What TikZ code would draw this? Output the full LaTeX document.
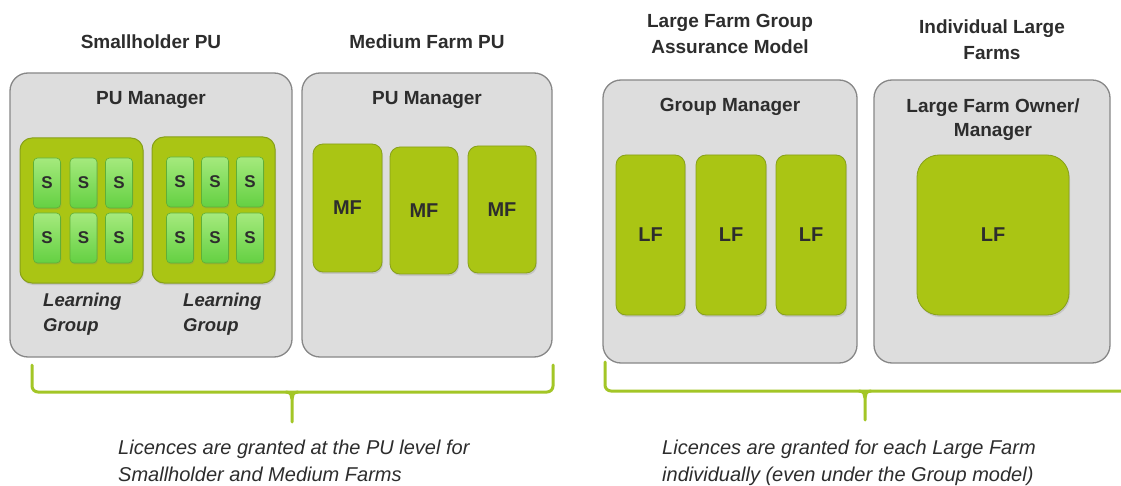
\documentclass[tikz,border=0pt]{standalone}
\usepackage{fontspec}
\setmainfont{Liberation Sans}
\usetikzlibrary{shadows}
\definecolor{panelfill}{RGB}{221,221,221}
\definecolor{panelborder}{RGB}{135,135,135}
\definecolor{farmgreen}{RGB}{170,197,20}
\definecolor{farmborder}{RGB}{135,160,25}
\definecolor{stilet}{RGB}{165,234,125}
\definecolor{stileb}{RGB}{100,208,66}
\definecolor{stileborder}{RGB}{95,175,55}
\definecolor{txt}{RGB}{45,45,45}
\definecolor{bracegreen}{RGB}{163,198,38}
\newcommand{\myfs}[2]{\fontsize{#1}{#2}\selectfont}
\tikzset{
  panel/.style={draw=panelborder, fill=panelfill, rounded corners=18pt, line width=1.3pt, inner sep=0pt, outer sep=0pt},
  groupbox/.style={draw=farmborder, fill=farmgreen, rounded corners=12pt, line width=1pt, inner sep=0pt,
    drop shadow={shadow xshift=1pt, shadow yshift=-2pt, opacity=0.25}},
  farm/.style={draw=farmborder, fill=farmgreen, rounded corners=10pt, line width=0.8pt, inner sep=0pt,
    text=txt, font=\bfseries\myfs{20}{24},
    drop shadow={shadow xshift=1pt, shadow yshift=-2pt, opacity=0.25}},
  stile/.style={draw=stileborder, top color=stilet, bottom color=stileb, rounded corners=4pt, line width=0.6pt,
    inner sep=0pt, minimum width=27pt, minimum height=50pt, text=txt, font=\bfseries\myfs{17}{20},
    drop shadow={shadow xshift=0.8pt, shadow yshift=-1.5pt, opacity=0.25}},
  header/.style={text=txt, font=\bfseries\myfs{19}{26}, align=center, inner sep=0pt},
  mgr/.style={text=txt, font=\bfseries\myfs{19}{24}, align=center, inner sep=0pt},
  lglabel/.style={text=txt, font=\bfseries\itshape\myfs{18.5}{25}, align=left, inner sep=0pt, anchor=north west},
  note/.style={text=txt, font=\itshape\myfs{20}{27}, align=left, inner sep=0pt, anchor=north west},
  bracepath/.style={draw=bracegreen, line width=3pt, line cap=round, line join=round}
}
\begin{document}
\begin{tikzpicture}[x=1pt,y=-1pt]
\fill[white] (0,0) rectangle (1121,486);
\useasboundingbox (0,0) rectangle (1121,486);

% headers
\node[header] (hsh) at (151,42) {Smallholder PU};
\node[header] (hmf) at (427,42) {Medium Farm PU};
\node[header] (hga) at (730,34) {Large Farm Group\\Assurance Model};
\node[header] (hil) at (992,40) {Individual Large\\Farms};

% panels
\node[panel, minimum width=282pt, minimum height=284pt] (psh) at (151,215) {};
\node[panel, minimum width=250pt, minimum height=284pt] (pmf) at (427,215) {};
\node[panel, minimum width=254pt, minimum height=283pt] (pga) at (730,221.5) {};
\node[panel, minimum width=236pt, minimum height=283pt] (pil) at (992,221.5) {};

% manager labels
\node[mgr] (msh) at (151,100) {PU Manager};
\node[mgr] (mmf) at (427,100) {PU Manager};
\node[mgr] (mga) at (730,107) {Group Manager};
\node[mgr] (mil) at (993,120) {Large Farm Owner/\\Manager};

% learning groups
\node[groupbox, minimum width=123pt, minimum height=145pt] (lg1) at (81.5,210.5) {};
\node[groupbox, minimum width=123pt, minimum height=146pt] (lg2) at (213.5,210) {};

% S tiles group 1
\node[stile] (s11) at (47,183) {S};
\node[stile] (s12) at (83.5,183) {S};
\node[stile] (s13) at (119,183) {S};
\node[stile] (s14) at (47,238) {S};
\node[stile] (s15) at (83.5,238) {S};
\node[stile] (s16) at (119,238) {S};
% S tiles group 2
\node[stile] (s21) at (180,182) {S};
\node[stile] (s22) at (215,182) {S};
\node[stile] (s23) at (250,182) {S};
\node[stile] (s24) at (180,238) {S};
\node[stile] (s25) at (215,238) {S};
\node[stile] (s26) at (250,238) {S};

% learning group labels
\node[lglabel] (lgl1) at (43,293) {Learning\\Group};
\node[lglabel] (lgl2) at (183,293) {Learning\\Group};

% medium farms
\node[farm, minimum width=69pt, minimum height=128pt] (mf1) at (347.5,208) {MF};
\node[farm, minimum width=68pt, minimum height=127pt] (mf2) at (424,210.5) {MF};
\node[farm, minimum width=68pt, minimum height=127pt] (mf3) at (502,209.5) {MF};

% large farms (group)
\node[farm, minimum width=69pt, minimum height=160pt] (lf1) at (650.5,235) {LF};
\node[farm, minimum width=70pt, minimum height=160pt] (lf2) at (731,235) {LF};
\node[farm, minimum width=70pt, minimum height=160pt] (lf3) at (811,235) {LF};

% individual large farm
\node[farm, rounded corners=22pt, minimum width=152pt, minimum height=160pt] (lf4) at (993,235) {LF};

% braces
\coordinate (bla) at (32,365);
\coordinate (blb) at (32,392);
\coordinate (blc) at (553,392);
\coordinate (bld) at (553,365);
\coordinate (blm) at (292,392);
\coordinate (blt) at (292,422);
\draw[bracepath, rounded corners=6pt] (bla) -- (blb) -- (blc) -- (bld);
\draw[bracepath] ([xshift=-6pt]blm) .. controls ([xshift=-1pt]blm) and (292,396) .. (292,399) -- (blt);
\draw[bracepath] ([xshift=6pt]blm) .. controls ([xshift=1pt]blm) and (292,396) .. (292,399);

\coordinate (bra) at (605,362);
\coordinate (brb) at (605,391);
\coordinate (brc) at (1121,391);
\coordinate (brm) at (865,391);
\coordinate (brt) at (865,420);
\draw[bracepath, rounded corners=6pt] (bra) -- (brb) -- (brc);
\draw[bracepath] ([xshift=-6pt]brm) .. controls ([xshift=-1pt]brm) and (865,395) .. (865,398) -- (brt);
\draw[bracepath] ([xshift=6pt]brm) .. controls ([xshift=1pt]brm) and (865,395) .. (865,398);

% notes
\node[note] (n1) at (118,440) {Licences are granted at the PU level for\\Smallholder and Medium Farms};
\node[note] (n2) at (662,440) {Licences are granted for each Large Farm\\individually (even under the Group model)};
\end{tikzpicture}
\end{document}
